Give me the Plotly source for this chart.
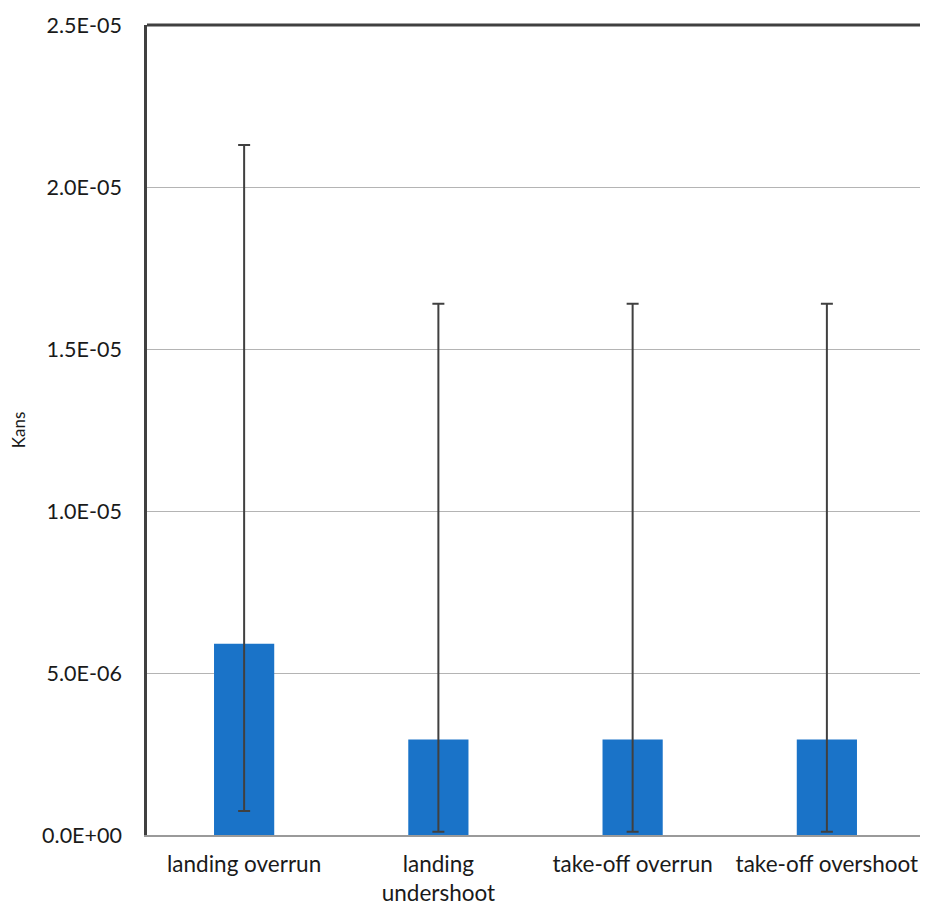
import plotly.graph_objects as go

categories = ["landing overrun", "landing<br>undershoot", "take-off overrun", "take-off overshoot"]
values = [5.9e-6, 2.95e-6, 2.95e-6, 2.95e-6]
upper = [2.13e-5, 1.64e-5, 1.64e-5, 1.64e-5]
lower = [0.74e-6, 0.1e-6, 0.1e-6, 0.1e-6]
tick_vals = [0, 5e-6, 1e-5, 1.5e-5, 2e-5, 2.5e-5]
tick_text = ["0.0E+00", "5.0E-06", "1.0E-05", "1.5E-05", "2.0E-05", "2.5E-05"]

err_plus = [u - v for u, v in zip(upper, values)]
err_minus = [v - l for v, l in zip(values, lower)]

fig = go.Figure(go.Bar(
    x=categories, y=values, marker_color="#1a73c8", marker_line_width=0,
    error_y=dict(type="data", symmetric=False, array=err_plus, arrayminus=err_minus,
                 color="#404040", thickness=2, width=6),
))

fontfam = "Lato, Open Sans, sans-serif"
fig.update_layout(
    width=920, height=897,
    margin=dict(l=139, r=4, t=17, b=70),
    plot_bgcolor="white", paper_bgcolor="white",
    bargap=0.69, showlegend=False,
    font=dict(family=fontfam, size=21, color="#1a1a1a"),
)
fig.update_yaxes(range=[0, 2.5e-5], tickvals=tick_vals, ticktext=tick_text,
                 showgrid=True, gridcolor="#b4b4b4", gridwidth=1.3,
                 showline=True, linecolor="#404040", linewidth=2.5,
                 ticks="", ticklen=0, ticklabelstandoff=18, automargin=False,
                 tickfont=dict(size=21.5),
                 title=dict(text="Kans", font=dict(size=17), standoff=28),
                 zeroline=False)
fig.update_xaxes(showline=True, linecolor="#9a9a9a", linewidth=2, ticks="",
                 ticklabelstandoff=8, tickfont=dict(size=22.5), automargin=False)
fig.add_shape(type="line", xref="paper", yref="paper", x0=0, x1=1, y0=1, y1=1,
              line=dict(color="#404040", width=3))
fig.write_html("out.html")
